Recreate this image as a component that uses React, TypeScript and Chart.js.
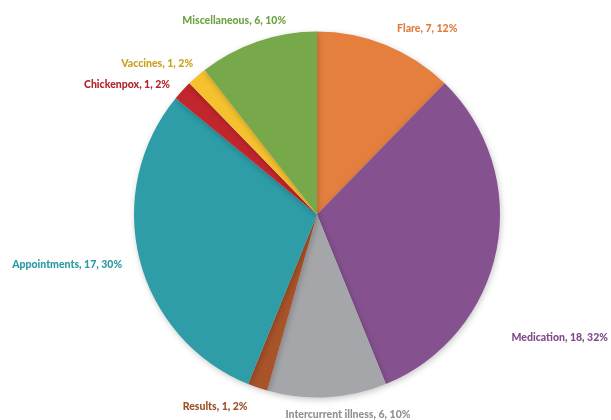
import React, { useEffect, useRef } from "react";
import { Chart, registerables } from "chart.js";

Chart.register(...registerables);

const categories = [
  "Flare",
  "Medication",
  "Intercurrent illness",
  "Results",
  "Appointments",
  "Chickenpox",
  "Vaccines",
  "Miscellaneous",
];
const counts = [7, 18, 6, 1, 17, 1, 1, 6];
const percentLabels = ["12%", "32%", "10%", "2%", "30%", "2%", "2%", "10%"];

const sliceColors = [
  "#E47F3E",
  "#85528F",
  "#A5A6A9",
  "#A8532A",
  "#2E9DA7",
  "#C1262C",
  "#F6C12E",
  "#77A94B",
];
const labelColors = [
  "#E07B3A",
  "#7F4A8C",
  "#8E9095",
  "#9A5026",
  "#2A9AA2",
  "#B3232A",
  "#C9A11E",
  "#6FA344",
];
// label placement: angle (deg, from center) and distance in radius units
const labelAngles = [-59.3, 26.8, 81.2, 117.9, 168.6, -145.7, -136.6, -113.1];
const labelDistances = [1.18, 1.486, 1.104, 1.19, 1.393, 1.257, 1.202, 1.153];

const labelPlugin = {
  id: "outerLabels",
  afterDatasetsDraw(chart: any) {
    const meta = chart.getDatasetMeta(0);
    const arc0 = meta.data[0];
    if (!arc0) return;
    const cx = arc0.x;
    const cy = arc0.y;
    const r = arc0.outerRadius;
    const ctx = chart.ctx;
    ctx.save();
    ctx.font = "900 10.5px Lato, 'DejaVu Sans', sans-serif";
    ctx.textAlign = "center";
    ctx.textBaseline = "middle";
    categories.forEach((c, i) => {
      const a = (labelAngles[i] * Math.PI) / 180;
      const d = labelDistances[i] * r;
      const x = cx + Math.cos(a) * d;
      const y = cy + Math.sin(a) * d;
      ctx.fillStyle = labelColors[i];
      ctx.fillText(`${c}, ${counts[i]}, ${percentLabels[i]}`, x, y);
    });
    ctx.restore();
  },
};

const shadowPlugin = {
  id: "pieShadow",
  beforeDatasetsDraw(chart: any) {
    const ctx = chart.ctx;
    ctx.save();
    ctx.shadowColor = "rgba(0,0,0,0.22)";
    ctx.shadowBlur = 6;
    ctx.shadowOffsetX = 1;
    ctx.shadowOffsetY = 2;
  },
  afterDatasetsDraw(chart: any) {
    chart.ctx.restore();
  },
};

export default function App() {
  const ref = useRef<HTMLCanvasElement | null>(null);
  useEffect(() => {
    if (!ref.current) return;
    const chart = new Chart(ref.current, {
      type: "pie",
      data: {
        labels: categories,
        datasets: [
          {
            data: counts,
            backgroundColor: sliceColors,
            borderWidth: 0,
          },
        ],
      },
      options: {
        responsive: false,
        animation: false,
        layout: { padding: { left: 134, right: 111, top: 31.5, bottom: 22.5 } },
        plugins: {
          legend: { display: false },
          tooltip: { enabled: false },
        },
      },
      plugins: [shadowPlugin, labelPlugin],
    });
    return () => chart.destroy();
  }, []);
  return (
    <div style={{ position: "fixed", left: 0, top: 0, width: 611, height: 420, background: "#fff" }}>
      <canvas ref={ref} width={611} height={420} />
    </div>
  );
}
